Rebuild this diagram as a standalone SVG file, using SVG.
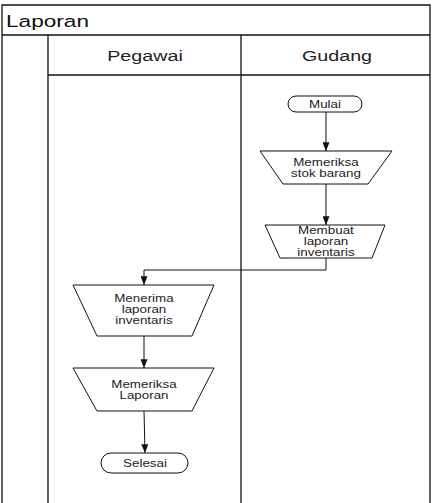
<svg xmlns="http://www.w3.org/2000/svg" width="437" height="503" viewBox="0 0 437 503">
<defs>
<marker id="ah" viewBox="0 0 10 8" refX="10" refY="4" markerWidth="9" markerHeight="7" orient="auto" markerUnits="userSpaceOnUse">
<path d="M0,0 L10,4 L0,8 Z" fill="#111"/>
</marker>
<style>
.frame{fill:none;stroke:#111;stroke-width:1.3}
.shape{fill:#fff;stroke:#111;stroke-width:1}
.conn{fill:none;stroke:#111;stroke-width:1}
.t{font-family:"Liberation Sans",Arial,sans-serif;fill:#222;text-anchor:middle;transform-box:fill-box;transform-origin:center}
.s{font-size:10.3px;transform:scaleX(1.3)}
.h{font-size:14.5px;transform:scaleX(1.36)}
.title{font-family:"Liberation Sans",Arial,sans-serif;font-size:17px;fill:#111;transform-box:fill-box;transform-origin:left center;transform:scaleX(1.33)}
</style>
</defs>
<rect width="437" height="503" fill="#fff"/>
<g id="pool">
<path class="frame" d="M2,504 V5 H430 V504"/>
<line class="frame" x1="2" y1="35" x2="430" y2="35"/>
<line class="frame" x1="48" y1="35" x2="48" y2="504"/>
<line class="frame" x1="241" y1="35" x2="241" y2="504"/>
<line class="frame" x1="48" y1="75" x2="430" y2="75"/>
<text class="title" x="6" y="27">Laporan</text>
<text class="t h" x="145" y="61">Pegawai</text>
<text class="t h" x="337" y="61">Gudang</text>
</g>
<g id="connectors">
<line class="conn" x1="326" y1="112" x2="326" y2="151" marker-end="url(#ah)"/>
<line class="conn" x1="326" y1="184" x2="326" y2="225" marker-end="url(#ah)"/>
<polyline class="conn" points="326,258 326,270 144,270 144,285" marker-end="url(#ah)"/>
<line class="conn" x1="144" y1="336" x2="144" y2="368" marker-end="url(#ah)"/>
<line class="conn" x1="144" y1="411" x2="145" y2="453" marker-end="url(#ah)"/>
</g>
<g id="mulai">
<rect class="shape" x="288" y="96" width="74" height="16" rx="8"/>
<text class="t s" x="325" y="108">Mulai</text>
</g>
<g id="memeriksa-stok">
<polygon class="shape" points="260,151 392,151 368,184 283,184"/>
<text class="t s" x="326" y="166">Memeriksa</text>
<text class="t s" x="326" y="177.5">stok barang</text>
</g>
<g id="membuat-laporan">
<polygon class="shape" points="265,225 385,225 372,258 280,258"/>
<text class="t s" x="326" y="234">Membuat</text>
<text class="t s" x="326" y="245">laporan</text>
<text class="t s" x="326" y="256">inventaris</text>
</g>
<g id="menerima-laporan">
<polygon class="shape" points="73,285 214,285 192,336 97,336"/>
<text class="t s" x="144" y="302">Menerima</text>
<text class="t s" x="144" y="313">laporan</text>
<text class="t s" x="144" y="324">inventaris</text>
</g>
<g id="memeriksa-laporan">
<polygon class="shape" points="73,368 214,368 192,411 97,411"/>
<text class="t s" x="144" y="388">Memeriksa</text>
<text class="t s" x="144" y="399.5">Laporan</text>
</g>
<g id="selesai">
<rect class="shape" x="101" y="453" width="87" height="20" rx="10"/>
<text class="t s" x="145" y="467">Selesai</text>
</g>
</svg>
